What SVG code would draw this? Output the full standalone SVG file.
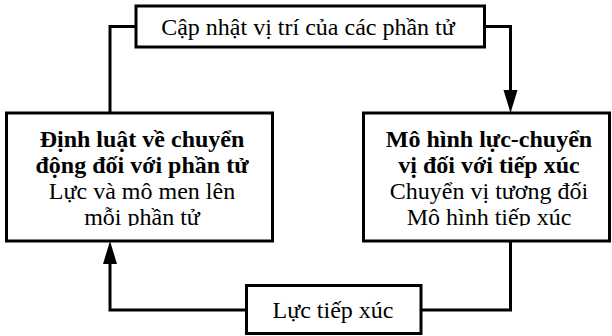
<svg xmlns="http://www.w3.org/2000/svg" width="612" height="336" viewBox="0 0 612 336">
<style>
.box{fill:#fff;stroke:#000;stroke-width:3}
.c{fill:none;stroke:#000;stroke-width:3}
.ah{fill:#000}
.t{font-size:24px;fill:#000;text-anchor:middle}
.b{font-weight:bold}
</style>
<defs>
<clipPath id="clipL"><rect x="8" y="115" width="263" height="111"/></clipPath>
<clipPath id="clipR"><rect x="365" y="115" width="244" height="111"/></clipPath>
</defs>
<rect width="612" height="336" fill="#fff"/>
<g id="connectors">
<path class="c" d="M136,26.5 H110 V113"/>
<path class="c" d="M484.5,26.5 H510.5 V96"/>
<polygon class="ah" points="510.5,113 503.5,90 517.5,90"/>
<path class="c" d="M246.5,310 H110 V258"/>
<polygon class="ah" points="110,241 103,264 117,264"/>
<path class="c" d="M421,310 H510.5 V241"/>
</g>
<g id="update">
<rect class="box" x="136" y="6" width="348.5" height="41"/>
<text class="t" font-family="Liberation Serif" x="308" y="35">Cập nhật vị trí của các phần tử</text>
</g>
<g id="law">
<rect class="box" x="6.5" y="113" width="266" height="128"/>
<g clip-path="url(#clipL)" font-family="Liberation Serif">
<text class="t b" font-family="Liberation Serif" x="142" y="147">Định luật về chuyển</text>
<text class="t b" font-family="Liberation Serif" x="142" y="173">động đối với phần tử</text>
<text class="t" font-family="Liberation Serif" x="142" y="199">Lực và mô men lên</text>
<text class="t" font-family="Liberation Serif" x="142" y="225">mỗi phần tử</text>
</g>
</g>
<g id="model">
<rect class="box" x="363.5" y="113" width="246" height="128"/>
<g clip-path="url(#clipR)">
<text class="t b" font-family="Liberation Serif" x="489" y="147">Mô hình lực-chuyển</text>
<text class="t b" font-family="Liberation Serif" x="489" y="173">vị đối với tiếp xúc</text>
<text class="t" font-family="Liberation Serif" x="489" y="199">Chuyển vị tương đối</text>
<text class="t" font-family="Liberation Serif" x="489" y="225">Mô hình tiếp xúc</text>
</g>
</g>
<g id="force">
<rect class="box" x="246.5" y="285.5" width="174.5" height="48"/>
<text class="t" font-family="Liberation Serif" x="333" y="318">Lực tiếp xúc</text>
</g>
</svg>
